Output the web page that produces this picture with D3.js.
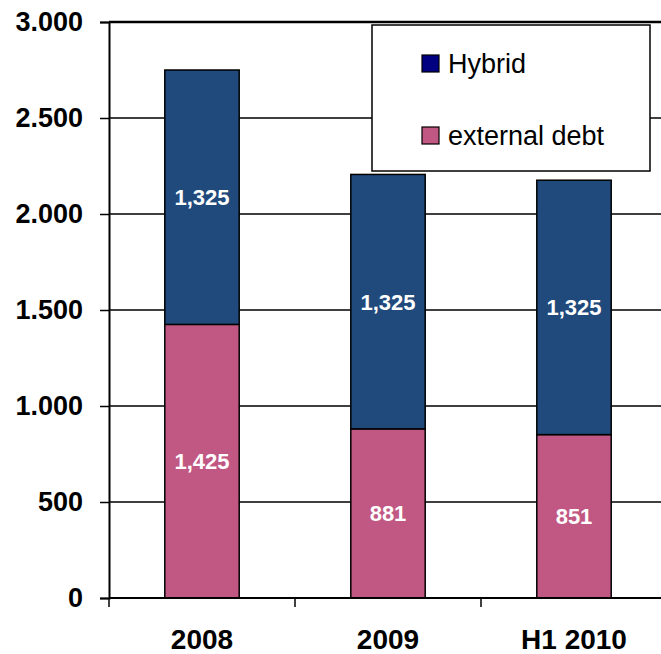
<!DOCTYPE html>
<html>
<head>
<meta charset="utf-8">
<script src="https://cdn.jsdelivr.net/npm/d3@7"></script>
<style>
  body { margin: 0; background: #fff; }
  svg { display: block; font-family: "Liberation Sans", Arial, sans-serif; }
</style>
</head>
<body>
<svg id="chart"></svg>
<script>
// chart data
var categories = ['2008', '2009', 'H1 2010'];
var externalDebt = [1425, 881, 851];
var hybrid = [1325, 1325, 1325];
var yTicks = [0, 500, 1000, 1500, 2000, 2500, 3000];
var yTickLabels = ['0', '500', '1.000', '1.500', '2.000', '2.500', '3.000'];
var seriesNames = ['external debt', 'Hybrid'];
var legendOrder = ['Hybrid', 'external debt'];

var svgWidth = 661, svgHeight = 654;
var plotLeft = 109, plotRight = 667, plotTop = 22, plotBottom = 598;
var barColor = { 'Hybrid': '#214a7c', 'external debt': '#c15883' };
var swatchColor = { 'Hybrid': '#000080', 'external debt': '#c15883' };

var svg = d3.select('#chart').attr('width', svgWidth).attr('height', svgHeight);

var rows = categories.map(function (c, i) {
    return { cat: c, 'external debt': externalDebt[i], 'Hybrid': hybrid[i] };
});

var x = d3.scaleBand().domain(categories).range([plotLeft, plotRight]).paddingInner(0.6).paddingOuter(0.3);
var y = d3.scaleLinear().domain([0, 3000]).range([plotBottom, plotTop]);

// horizontal gridlines
svg.append('g').selectAll('line').data(yTicks.slice(1)).enter().append('line')
    .attr('x1', plotLeft).attr('x2', svgWidth)
    .attr('y1', function (d) { return y(d); }).attr('y2', function (d) { return y(d); })
    .attr('stroke', '#000')
    .attr('stroke-width', function (d) { return d === 3000 ? 2.5 : 1.5; });

// stacked bars
var stack = d3.stack().keys(seriesNames)(rows);
var groups = svg.append('g').selectAll('g').data(stack).enter().append('g')
    .attr('fill', function (s) { return barColor[s.key]; });
groups.selectAll('rect').data(function (s) { return s; }).enter().append('rect')
    .attr('x', function (d) { return x(d.data.cat); })
    .attr('width', x.bandwidth())
    .attr('y', function (d) { return y(d[1]); })
    .attr('height', function (d) { return y(d[0]) - y(d[1]); })
    .attr('stroke', '#000').attr('stroke-width', 1.5);

// value labels
groups.selectAll('text').data(function (s) { return s; }).enter().append('text')
    .attr('x', function (d) { return x(d.data.cat) + x.bandwidth() / 2; })
    .attr('y', function (d) { return (y(d[0]) + y(d[1])) / 2; })
    .attr('dy', '0.36em')
    .attr('text-anchor', 'middle')
    .attr('fill', '#fff').attr('font-weight', 'bold').attr('font-size', 22)
    .text(function (d) { return d3.format(',')(d[1] - d[0]); });

// y axis
var yAxis = d3.axisLeft(y).tickValues(yTicks).tickSize(9).tickPadding(17)
    .tickFormat(function (d, i) { return yTickLabels[i]; });
var gy = svg.append('g').attr('transform', 'translate(' + plotLeft + ',0)').call(yAxis);
gy.select('.domain').attr('stroke', '#000').attr('stroke-width', 2);
gy.selectAll('.tick line').attr('stroke', '#000').attr('stroke-width', 1.5);
gy.selectAll('.tick text').attr('font-size', 27).attr('font-weight', 'bold')
    .attr('fill', '#000').attr('font-family', '"Liberation Sans", Arial, sans-serif');

// x axis
var xTickPos = d3.scaleLinear().domain([0, 3]).range([plotLeft, plotRight]);
svg.append('line').attr('x1', plotLeft).attr('x2', svgWidth).attr('y1', plotBottom).attr('y2', plotBottom)
    .attr('stroke', '#000').attr('stroke-width', 2);
svg.append('g').selectAll('line').data([0, 1, 2, 3]).enter().append('line')
    .attr('x1', function (d) { return xTickPos(d); }).attr('x2', function (d) { return xTickPos(d); })
    .attr('y1', plotBottom).attr('y2', plotBottom + 9)
    .attr('stroke', '#000').attr('stroke-width', 1.5);
svg.append('g').selectAll('text').data(categories).enter().append('text')
    .attr('x', function (d) { return x(d) + x.bandwidth() / 2; })
    .attr('y', 649)
    .attr('text-anchor', 'middle')
    .attr('font-size', 28).attr('font-weight', 'bold').attr('fill', '#000')
    .text(function (d) { return d; });

// legend
var legend = svg.append('g').attr('transform', 'translate(372,25)');
legend.append('rect').attr('width', 278).attr('height', 146)
    .attr('fill', '#fff').attr('stroke', '#000').attr('stroke-width', 1.5);
var items = legend.selectAll('g').data(legendOrder).enter().append('g')
    .attr('transform', function (d, i) { return 'translate(50,' + (30 + i * 72) + ')'; });
items.append('rect').attr('width', 17).attr('height', 17)
    .attr('fill', function (d) { return swatchColor[d]; })
    .attr('stroke', '#000').attr('stroke-width', 1.2);
items.append('text').attr('x', 26).attr('y', 8.5).attr('dy', '0.36em')
    .attr('font-size', 27).attr('fill', '#000')
    .text(function (d) { return d; });
</script>
</body>
</html>
